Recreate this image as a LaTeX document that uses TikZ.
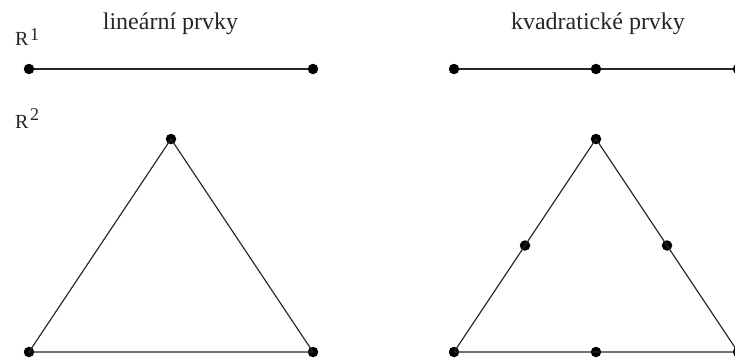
\documentclass[tikz,border=0pt]{standalone}
\usepackage{fontspec}
\setmainfont{Liberation Serif}
\newcommand{\dimlabel}[2]{R\kern1.5pt\raisebox{#2}{\fontsize{18}{20}\selectfont #1}}
\begin{document}
\begin{tikzpicture}[x=1pt,y=-1pt,
  edge/.style={draw=black!85, line width=1.2pt},
  knot/.style={circle, fill=black, inner sep=0pt, minimum size=10.5pt},
  head/.style={font=\fontsize{24}{28}\selectfont, inner sep=0pt, text=black!85},
  space/.style={font=\fontsize{20}{24}\selectfont, inner sep=0pt, text=black!85}]
\useasboundingbox (0,0) rectangle (735,360);
\clip (0,0) rectangle (735,360);
% headings
\node[head, anchor=base] (hlin) at (170.5,29) {lineární prvky};
\node[head, anchor=base] (hquad) at (598,29) {kvadratické prvky};
\node[space, anchor=base west] (r1) at (15,45) {\dimlabel{1}{5pt}};
\node[space, anchor=base west] (r2) at (15,128) {\dimlabel{2}{8pt}};
% 1D linear element
\node[knot] (a1) at (29,69) {};
\node[knot] (a2) at (313,69) {};
\draw[edge] (a1) -- (a2);
% 1D quadratic element
\node[knot] (b1) at (454,69) {};
\node[knot] (b2) at (596,69) {};
\node[knot] (b3) at (738,69) {};
\draw[edge] (b1) -- (b2) -- (b3);
% 2D linear triangle
\node[knot] (t1) at (171,139) {};
\node[knot] (t2) at (29,352) {};
\node[knot] (t3) at (313,352) {};
\draw[edge] (t1.center) -- (t2.center) -- (t3.center) -- cycle;
% 2D quadratic triangle
\node[knot] (q1) at (596,139) {};
\node[knot] (q2) at (454,352) {};
\node[knot] (q3) at (738,352) {};
\node[knot] (q12) at (525,245.5) {};
\node[knot] (q23) at (596,352) {};
\node[knot] (q31) at (667,245.5) {};
\draw[edge] (q1.center) -- (q12.center) -- (q2.center) -- (q23.center) -- (q3.center) -- (q31.center) -- cycle;
\end{tikzpicture}
\end{document}
